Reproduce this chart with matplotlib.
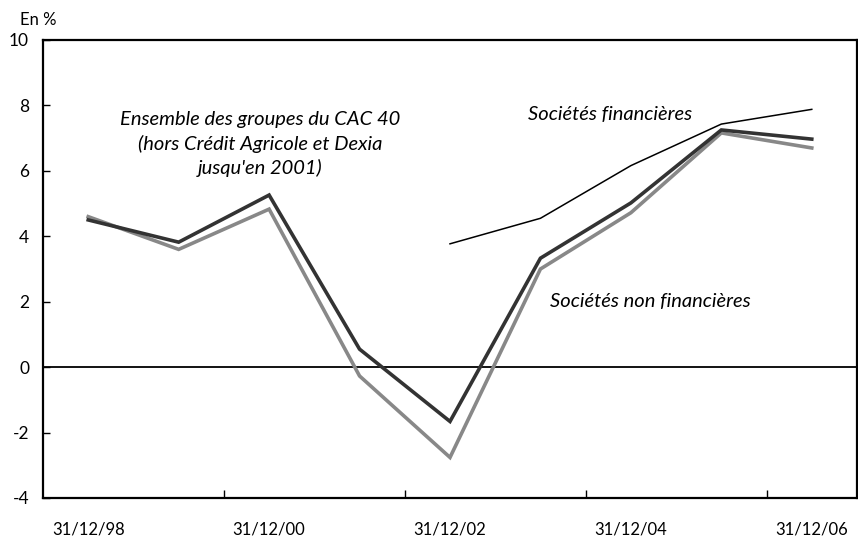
import matplotlib
matplotlib.use("Agg")
import matplotlib.pyplot as plt
import numpy as np

plt.rcParams['font.family'] = ['Lato', 'DejaVu Sans']

categories = ["31/12/98", "31/12/99", "31/12/00", "31/12/01", "31/12/02",
              "31/12/03", "31/12/04", "31/12/05", "31/12/06"]
ensemble = [4.50, 3.82, 5.26, 0.55, -1.66, 3.33, 5.02, 7.25, 6.97]
non_fin = [4.60, 3.60, 4.83, -0.27, -2.76, 3.00, 4.72, 7.16, 6.70]
fin = [None, None, None, None, 3.77, 4.55, 6.16, 7.43, 7.88]
xlabels = ["31/12/98", "31/12/00", "31/12/02", "31/12/04", "31/12/06"]
yticks = [-4, -2, 0, 2, 4, 6, 8, 10]

fig = plt.figure(figsize=(8.58, 5.38), dpi=100)
ax = fig.add_axes([43/858, 40/538, (857-43)/858, (498-40)/538])

x = np.arange(len(categories))
fin_arr = np.array([np.nan if v is None else v for v in fin], dtype=float)

ax.axhline(0, color='black', lw=1.3, zorder=1)
ax.plot(x, non_fin, color='#888888', lw=2.6, solid_joinstyle='miter', zorder=2)
ax.plot(x, ensemble, color='#333333', lw=2.6, solid_joinstyle='miter', zorder=3)
ax.plot(x, fin_arr, color='black', lw=1.1, zorder=4)

ax.set_xlim(-0.5, len(categories) - 0.5)
ax.set_ylim(-4, 10)
ax.set_yticks(yticks)
ax.set_yticklabels([str(v) for v in yticks], fontsize=12.5)

# major ticks at category boundaries (no labels), labels at categories
ax.set_xticks([1.5, 3.5, 5.5, 7.5])
ax.set_xticklabels([])
lab_pos = [categories.index(l) for l in xlabels]
ax.set_xticks(lab_pos, minor=True)
ax.set_xticklabels(xlabels, minor=True, fontsize=12)
ax.tick_params(axis='x', which='major', direction='in', length=6, width=1)
ax.tick_params(axis='x', which='minor', length=0, pad=17)
ax.tick_params(axis='y', direction='in', length=5, width=1, pad=10)

for s in ax.spines.values():
    s.set_linewidth(1.6)

ax.text(1.9, 6.82, "Ensemble des groupes du CAC 40\n(hors Crédit Agricole et Dexia\njusqu'en 2001)",
        ha='center', va='center', fontsize=14.5, style='italic', linespacing=1.4)
ax.text(5.77, 7.72, "Sociétés financières", ha='center', va='center',
        fontsize=14.5, style='italic')
ax.text(6.22, 2.02, "Sociétés non financières", ha='center', va='center',
        fontsize=14.5, style='italic')

fig.text(20/858, 1 - 20/538, "En %", ha='left', va='center', fontsize=12)

fig.savefig("out.png", dpi=100)
